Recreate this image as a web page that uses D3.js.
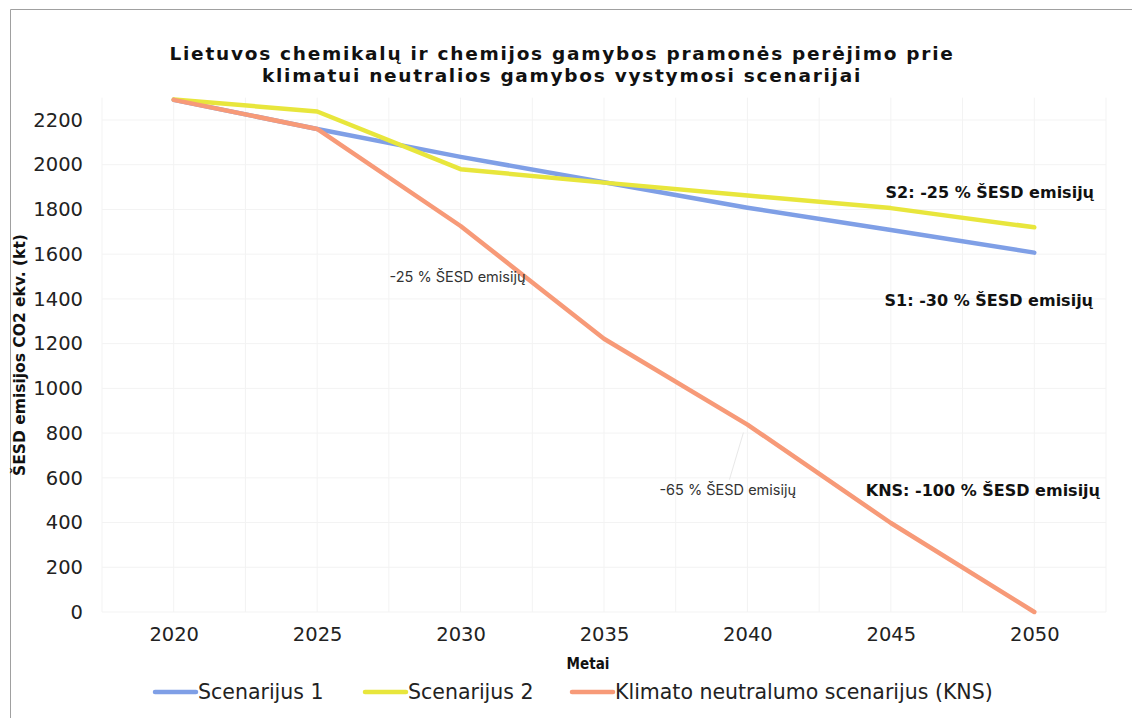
<!DOCTYPE html>
<html><head><meta charset="utf-8">
<script src="https://cdn.jsdelivr.net/npm/d3@7"></script>
<style>body{margin:0;background:#fff}svg{display:block}</style>
</head><body>
<svg id="c" width="1132" height="718"></svg>
<script>
const years = ["2020","2025","2030","2035","2040","2045","2050"];
const s1 = [2290, 2160, 2035, 1922, 1808, 1708, 1607];
const s2 = [2292, 2238, 1980, 1920, 1862, 1806, 1720];
const kns = [2290, 2160, 1726, 1222, 838, 398, 0];
const yTicks = [0,200,400,600,800,1000,1200,1400,1600,1800,2000,2200];
const seriesNames = ["Scenarijus 1","Scenarijus 2","Klimato neutralumo scenarijus (KNS)"];
const colors = ["#7f9fe6","#e8e63c","#f79a78"];
const titleLines = ["Lietuvos chemikalų ir chemijos gamybos pramonės perėjimo prie","klimatui neutralios gamybos vystymosi scenarijai"];
const endLabels = ["S2: -25 % ŠESD emisijų","S1: -30 % ŠESD emisijų","KNS: -100 % ŠESD emisijų"];
const midLabels = ["-25 % ŠESD emisijų","-65 % ŠESD emisijų"];

const svg = d3.select("#c");
const m = {l:102, r:1106, t:97, b:612};
const x = d3.scalePoint().domain(years).range([m.l, m.r]).padding(0.5);
const y = d3.scaleLinear().domain([0, 2300]).range([m.b, m.b - 2300*(492/2200)]);

// border
svg.append("path").attr("d","M10.5,718 L10.5,9.5 L1132,9.5").attr("fill","none").attr("stroke","#a0a0a0").attr("stroke-width",1);

// gridlines
const g = svg.append("g");
const step = x.step();
const vx = [];
for (let i=0;i<=years.length*2;i++) vx.push(m.l + i*step/2);
g.selectAll("line.v").data(vx).enter().append("line")
 .attr("x1",d=>d).attr("x2",d=>d).attr("y1",y(2300)).attr("y2",m.b)
 .attr("stroke","#f3f3f3").attr("stroke-width",1);
g.selectAll("line.h").data(yTicks).enter().append("line")
 .attr("x1",m.l).attr("x2",m.r).attr("y1",d=>y(d)).attr("y2",d=>y(d))
 .attr("stroke","#f3f3f3").attr("stroke-width",1);

// axes
const font = "DejaVu Sans, Verdana, sans-serif";
const ya = svg.append("g").attr("transform",`translate(${m.l},0)`)
 .call(d3.axisLeft(y).tickValues(yTicks).tickFormat(d3.format("d")).tickSize(0).tickPadding(19));
ya.select(".domain").remove();
ya.selectAll("text").attr("font-family",font).attr("font-size",19.5).attr("fill","#222");
const xa = svg.append("g").attr("transform",`translate(0,${m.b})`)
 .call(d3.axisBottom(x).tickSize(0).tickPadding(15));
xa.select(".domain").remove();
xa.selectAll("text").attr("font-family",font).attr("font-size",19.5).attr("fill","#222");

// lines
const line = d3.line().x((d,i)=>x(years[i])).y(d=>y(d));
[s1,s2,kns].forEach((s,i)=>{
  svg.append("path").datum(s).attr("d",line).attr("fill","none")
   .attr("stroke",colors[i]).attr("stroke-width",4.5)
   .attr("stroke-linecap","round").attr("stroke-linejoin","round");
});

// leader lines (faint)
svg.append("line").attr("x1",x("2040")-4).attr("y1",y(kns[4])+8).attr("x2",x("2040")-18).attr("y2",y(kns[4])+55)
 .attr("stroke","#e8e8e8").attr("stroke-width",1);

// mid annotations
const afont = "Inter, 'Open Sans', sans-serif";
svg.append("text").attr("x",x("2030")-71).attr("y",y(kns[2])+56).text(midLabels[0])
 .attr("font-family",afont).attr("font-size",14.5).attr("fill","#333");
svg.append("text").attr("x",x("2040")-88).attr("y",y(kns[4])+70).text(midLabels[1])
 .attr("font-family",afont).attr("font-size",14.5).attr("fill","#333");

// end labels
const bfont = "DejaVu Sans, Verdana, sans-serif";
const endPos = [[1094, y(1853)],[1093, y(1368)],[1100, y(518)]];
endLabels.forEach((t,i)=>{
  svg.append("text").attr("x",endPos[i][0]).attr("y",endPos[i][1]).attr("text-anchor","end")
   .attr("font-family",bfont).attr("font-weight","bold").attr("font-size",16).attr("fill","#111").text(t);
});

// title
const tW = [785, 600];
titleLines.forEach((t,i)=>{
  const el = svg.append("text").attr("x",562).attr("y",60+22*i).attr("text-anchor","middle")
   .attr("font-family",bfont).attr("font-weight","bold").attr("font-size",18.5).attr("fill","#111").text(t);
  const w = el.node().getComputedTextLength();
  const ls = (tW[i]-w)/t.length;
  el.attr("letter-spacing",ls);
});

// axis titles
svg.append("text").attr("x",588).attr("y",669).attr("text-anchor","middle")
 .attr("font-family","'DejaVu Sans Condensed', 'DejaVu Sans', sans-serif").attr("font-weight","bold").attr("font-size",15).attr("fill","#111").text("Metai");
svg.append("text").attr("transform","translate(25,355) rotate(-90)").attr("text-anchor","middle")
 .attr("font-family",bfont).attr("font-weight","bold").attr("font-size",15.5).attr("fill","#111").text("ŠESD emisijos CO2 ekv. (kt)");

// legend
const lx = [155, 365, 572];
seriesNames.forEach((n,i)=>{
  const gg = svg.append("g").attr("transform",`translate(${lx[i]},692)`);
  gg.append("line").attr("x1",0).attr("x2",41).attr("y1",0).attr("y2",0)
   .attr("stroke",colors[i]).attr("stroke-width",4.5).attr("stroke-linecap","round");
  gg.append("text").attr("x",43).attr("y",7).attr("font-family","'DejaVu Sans', sans-serif")
   .attr("font-size",20.5).attr("fill","#222").text(n);
});
</script>
</body></html>
